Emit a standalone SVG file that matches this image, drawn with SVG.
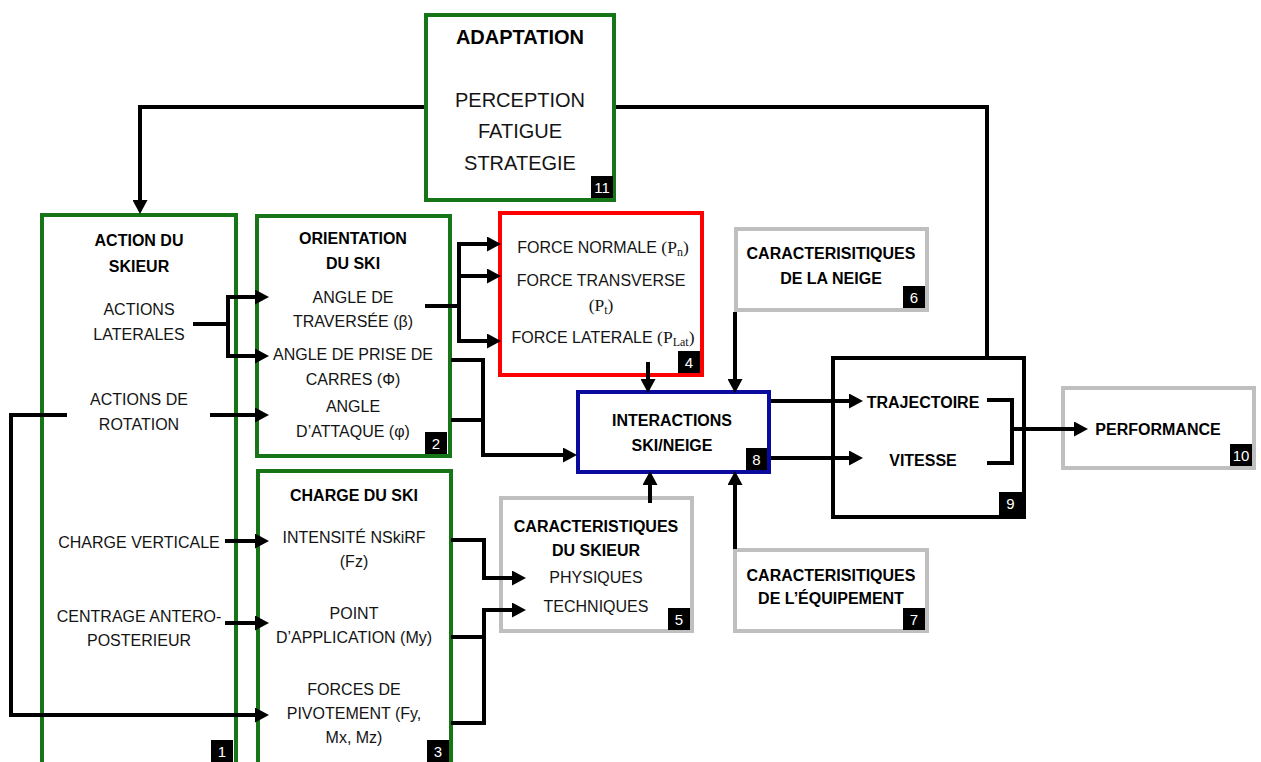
<svg xmlns="http://www.w3.org/2000/svg" width="1261" height="762" viewBox="0 0 1261 762">
<style>
.t{font-family:"Liberation Sans",Arial,sans-serif;font-size:16px;fill:#141414;text-anchor:middle}
.b{font-weight:bold;fill:#000}
.big{font-size:20px}
.s{font-family:"Liberation Serif","Times New Roman",serif;font-size:17.5px}
.sub{font-family:"Liberation Serif","Times New Roman",serif;font-size:12px}
.box{fill:#fff;stroke-width:4}
.g{stroke:#177517}
.gr{stroke:#bfbfbf}
.r{stroke:#ff0000}
.bl{stroke:#0a0a9e}
.k{stroke:#000}
.bd{fill:#000}
.bt{font-family:"Liberation Sans",Arial,sans-serif;font-size:15px;fill:#fff;text-anchor:middle}
.c{fill:none;stroke:#000;stroke-width:4}
.a{marker-end:url(#ah)}
</style>
<defs>
<marker id="ah" markerUnits="userSpaceOnUse" markerWidth="14" markerHeight="15" refX="7" refY="7.5" orient="auto">
<path d="M0,0 L14,7.5 L0,15 z" fill="#000"/>
</marker>
</defs>
<rect width="1261" height="762" fill="#fff"/>

<g id="node1">
<rect class="box g" x="42" y="215" width="194" height="600"/>
<text class="t b" x="139" y="246">ACTION DU</text>
<text class="t b" x="139" y="272">SKIEUR</text>
<text class="t" x="139" y="315">ACTIONS</text>
<text class="t" x="139" y="340">LATERALES</text>
<text class="t" x="139" y="405">ACTIONS DE</text>
<text class="t" x="139" y="430">ROTATION</text>
<text class="t" x="139" y="548">CHARGE VERTICALE</text>
<text class="t" x="139" y="622">CENTRAGE ANTERO-</text>
<text class="t" x="139" y="646">POSTERIEUR</text>
<rect class="bd" x="211" y="740" width="22" height="22"/>
<text class="bt" x="222" y="757">1</text>
</g>

<g id="node2">
<rect class="box g" x="257" y="216" width="193" height="240"/>
<text class="t b" x="353" y="244">ORIENTATION</text>
<text class="t b" x="353" y="269">DU SKI</text>
<text class="t" x="353" y="303">ANGLE DE</text>
<text class="t" x="353" y="327">TRAVERSÉE (β)</text>
<text class="t" x="353" y="360">ANGLE DE PRISE DE</text>
<text class="t" x="353" y="385">CARRES (Φ)</text>
<text class="t" x="353" y="412">ANGLE</text>
<text class="t" x="353" y="437">D’ATTAQUE (φ)</text>
<rect class="bd" x="425" y="432" width="22" height="22"/>
<text class="bt" x="436" y="449">2</text>
</g>

<g id="node3">
<rect class="box g" x="258" y="471" width="193" height="300"/>
<text class="t b" x="354" y="501">CHARGE DU SKI</text>
<text class="t" x="354" y="543">INTENSITÉ NSkiRF</text>
<text class="t" x="354" y="567">(Fz)</text>
<text class="t" x="354" y="619">POINT</text>
<text class="t" x="354" y="643">D’APPLICATION (My)</text>
<text class="t" x="354" y="695">FORCES DE</text>
<text class="t" x="354" y="719">PIVOTEMENT (Fy,</text>
<text class="t" x="354" y="743">Mx, Mz)</text>
<rect class="bd" x="427" y="740" width="22" height="22"/>
<text class="bt" x="438" y="757">3</text>
</g>

<g id="node4">
<rect class="box r" x="500" y="213" width="202" height="162"/>
<text class="t" x="603" y="253">FORCE NORMALE <tspan class="s">(P</tspan><tspan class="sub" dy="3">n</tspan><tspan class="s" dy="-3">)</tspan></text>
<text class="t" x="601" y="286">FORCE TRANSVERSE</text>
<text class="t" x="601" y="311"><tspan class="s">(P</tspan><tspan class="sub" dy="3">t</tspan><tspan class="s" dy="-3">)</tspan></text>
<text class="t" x="603" y="343">FORCE LATERALE <tspan class="s">(P</tspan><tspan class="sub" dy="3">Lat</tspan><tspan class="s" dy="-3">)</tspan></text>
<rect class="bd" x="678" y="351" width="22" height="22"/>
<text class="bt" x="689" y="368">4</text>
</g>

<g id="node5">
<rect class="box gr" x="501" y="498" width="191" height="133"/>
<text class="t b" x="596" y="532">CARACTERISTIQUES</text>
<text class="t b" x="596" y="556">DU SKIEUR</text>
<text class="t" x="596" y="583">PHYSIQUES</text>
<text class="t" x="596" y="612">TECHNIQUES</text>
<rect class="bd" x="668" y="608" width="22" height="22"/>
<text class="bt" x="679" y="625">5</text>
</g>

<g id="node6">
<rect class="box gr" x="736" y="229" width="191" height="81"/>
<text class="t b" x="831" y="259">CARACTERISITIQUES</text>
<text class="t b" x="831" y="284">DE LA NEIGE</text>
<rect class="bd" x="903" y="286" width="22" height="22"/>
<text class="bt" x="914" y="303">6</text>
</g>

<g id="node7">
<rect class="box gr" x="735" y="550" width="192" height="81"/>
<text class="t b" x="831" y="581">CARACTERISITIQUES</text>
<text class="t b" x="831" y="604">DE L’ÉQUIPEMENT</text>
<rect class="bd" x="903" y="608" width="22" height="22"/>
<text class="bt" x="914" y="625">7</text>
</g>

<g id="node8">
<rect class="box bl" x="578" y="392" width="191" height="80"/>
<text class="t b" x="672" y="426">INTERACTIONS</text>
<text class="t b" x="672" y="451">SKI/NEIGE</text>
<rect class="bd" x="746" y="448" width="21" height="22"/>
<text class="bt" x="756.500" y="465">8</text>
</g>

<g id="node9">
<rect class="box k" x="833" y="358" width="191" height="159"/>
<text class="t b" x="923" y="408">TRAJECTOIRE</text>
<text class="t b" x="923" y="466">VITESSE</text>
<rect class="bd" x="999" y="492" width="23" height="23"/>
<text class="bt" x="1010.500" y="509">9</text>
</g>

<g id="node10">
<rect class="box gr" x="1063" y="388" width="191" height="80"/>
<text class="t b" x="1158" y="435">PERFORMANCE</text>
<rect class="bd" x="1230" y="444" width="22" height="22"/>
<text class="bt" x="1241" y="461">10</text>
</g>

<g id="node11">
<rect class="box g" x="426" y="15" width="188" height="185"/>
<text class="t b big" x="520" y="44">ADAPTATION</text>
<text class="t big" x="520" y="107">PERCEPTION</text>
<text class="t big" x="520" y="138">FATIGUE</text>
<text class="t big" x="520" y="170">STRATEGIE</text>
<rect class="bd" x="591" y="176" width="22" height="22"/>
<text class="bt" x="602" y="193">11</text>
</g>

<g id="connectors">
<path class="c a" d="M424,107 H140 V207"/>
<path class="c" d="M987,356 V107 H616"/>
<path class="c a" d="M193,324 H228 V297 H262"/>
<path class="c a" d="M228,324 V356 H262"/>
<path class="c a" d="M210,415 H262"/>
<path class="c a" d="M67,415 H11 V715 H262"/>
<path class="c a" d="M225,541 H262"/>
<path class="c a" d="M225,623 H262"/>
<path class="c a" d="M425,306 H459 V244 H494"/>
<path class="c a" d="M459,306 V341 H494"/>
<path class="c a" d="M459,276 H494"/>
<path class="c a" d="M451,360 H483 V455 H570"/>
<path class="c" d="M451,420 H483"/>
<path class="c a" d="M648,362 V386"/>
<path class="c a" d="M735,312 V386"/>
<path class="c a" d="M771,401 H856"/>
<path class="c a" d="M771,458 H856"/>
<path class="c" d="M987,400 H1012 V463 H987"/>
<path class="c a" d="M1012,429 H1081"/>
<path class="c a" d="M650,503 V478"/>
<path class="c a" d="M735,549 V478"/>
<path class="c a" d="M451,540 H484 V578 H519"/>
<path class="c a" d="M451,723 H484 V610 H519"/>
<path class="c" d="M451,637 H484"/>
</g>
</svg>
